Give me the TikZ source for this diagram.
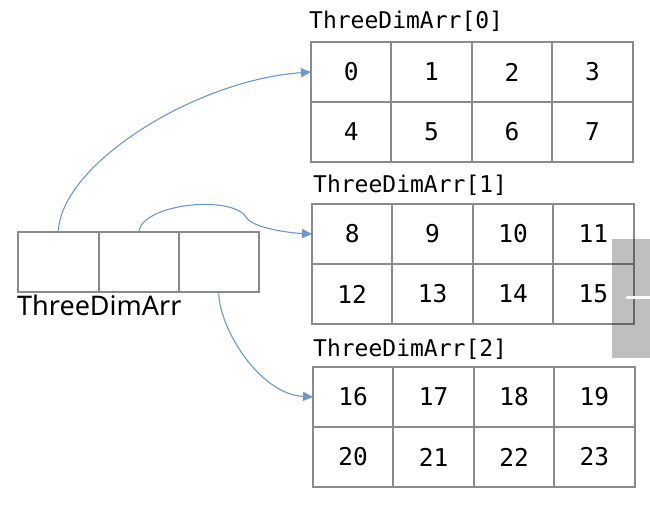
\documentclass[tikz,border=0pt]{standalone}
\usepackage{fontspec}
\setmainfont{Noto Sans}
\setmonofont{DejaVu Sans Mono}
\usetikzlibrary{arrows.meta}
\definecolor{gridline}{RGB}{138,138,138}
\definecolor{arrowblue}{RGB}{105,152,210}
\tikzset{
  cellbox/.style={draw=gridline, line width=2pt, minimum width=80.4pt, minimum height=60pt,
    inner sep=0pt, outer sep=0pt, anchor=north west,
    font=\ttfamily\fontsize{24.5}{24.5}\selectfont},
  ptrbox/.style={draw=gridline, line width=2pt, minimum width=80.2pt, minimum height=60pt,
    inner sep=0pt, outer sep=0pt, anchor=north west},
  gridlabel/.style={anchor=base west, inner sep=0pt, font=\ttfamily\fontsize{23}{23}\selectfont},
  ptrarrow/.style={draw=arrowblue, line width=1.1pt, -{Triangle[length=10pt,width=9pt]}}
}
\begin{document}
\begin{tikzpicture}[x=1pt,y=-1pt]
\useasboundingbox[fill=white] (0,0) rectangle (650,510);
% 2D grids
\foreach \g/\xo/\yo in {0/311/42, 1/312/204, 2/313/367}{
  \foreach \r in {0,1}{
    \foreach \c in {0,1,2,3}{
      \pgfmathtruncatemacro{\val}{\g*8+\r*4+\c}
      \node[cellbox] (g\g c\r\c) at ({\xo+\c*80.4},{\yo+\r*60}) {\val};
    }
  }
}
\node[gridlabel] (lab0) at (309,29) {ThreeDimArr[0]};
\node[gridlabel] (lab1) at (313,193) {ThreeDimArr[1]};
\node[gridlabel] (lab2) at (313,356) {ThreeDimArr[2]};
% pointer array
\foreach \c in {0,1,2}{
  \node[ptrbox] (a\c) at ({18.3+\c*80.2},232) {};
}
\node[anchor=base west, inner sep=0pt, font=\fontsize{27}{27}\selectfont] (alab) at (17,316) {ThreeDimArr};
% arrows
\draw[ptrarrow] (a0.north) .. controls (60,165) and (195,80) .. (g0c00.west);
\draw[ptrarrow] (a1.north) .. controls (143,203) and (232,195) .. (246,217)
  .. controls (252,228) and (290,233) .. (g1c00.west);
\draw[ptrarrow] (a2.south) .. controls (218,325) and (258,394) .. (g2c00.west);
% overlay artifact
\fill[black, opacity=0.25] (612,239) rectangle (650,358);
\draw[white, line width=3pt, line cap=round] (627,298) -- (651,298);
\end{tikzpicture}
\end{document}
